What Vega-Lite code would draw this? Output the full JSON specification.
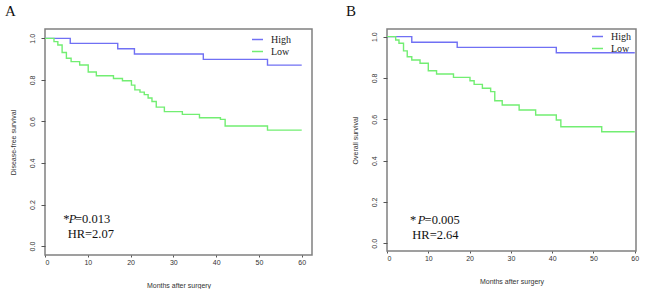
{
  "$schema": "https://vega.github.io/schema/vega-lite/v6.json",
  "padding": {"left": 4, "top": 3, "right": 0, "bottom": 0},
  "background": "white",
  "config": {
    "view": {"stroke": "#808080", "strokeWidth": 1.5},
    "concat": {"spacing": 32},
    "axis": {
      "grid": false, "domain": false, "ticks": true, "tickColor": "#555555", "tickWidth": 1,
      "labelFont": "Liberation Sans", "labelFontSize": 7, "labelColor": "#333333",
      "titleFont": "Liberation Sans", "titleFontSize": 7, "titleFontWeight": "normal", "titleColor": "#333333"
    },
    "axisX": {"tickSize": 2, "labelPadding": 1, "titlePadding": 16, "values": [0, 10, 20, 30, 40, 50, 60]},
    "axisY": {"tickSize": 4, "labelPadding": 6, "labelAngle": -90, "labelAlign": "center", "labelBaseline": "bottom", "titlePadding": 12, "minExtent": 17, "maxExtent": 17, "values": [0, 0.2, 0.4, 0.6, 0.8, 1.0], "format": ".1f"},
    "legend": {
      "labelFont": "Liberation Serif", "labelFontSize": 10, "labelColor": "#222222",
      "symbolType": "stroke", "symbolSize": 121, "symbolStrokeWidth": 1.5, "labelOffset": 7, "rowPadding": -1, "title": null
    },
    "title": {"font": "Liberation Serif", "fontSize": 15, "fontWeight": "normal", "color": "#111111", "anchor": "start", "frame": "bounds", "offset": 10}
  },
  "datasets": {
    "dfs": [
      {"group": "High", "t": 0, "s": 1.0},
      {"group": "High", "t": 5.9, "s": 0.976},
      {"group": "High", "t": 17.0, "s": 0.95},
      {"group": "High", "t": 20.9, "s": 0.925},
      {"group": "High", "t": 37.0, "s": 0.899},
      {"group": "High", "t": 52.0, "s": 0.871},
      {"group": "High", "t": 60.0, "s": 0.871},
      {"group": "Low", "t": 0, "s": 1.0},
      {"group": "Low", "t": 2.1, "s": 0.984},
      {"group": "Low", "t": 3.0, "s": 0.968},
      {"group": "Low", "t": 4.0, "s": 0.932},
      {"group": "Low", "t": 5.0, "s": 0.904},
      {"group": "Low", "t": 6.1, "s": 0.888},
      {"group": "Low", "t": 8.1, "s": 0.872},
      {"group": "Low", "t": 10.1, "s": 0.838},
      {"group": "Low", "t": 12.0, "s": 0.82},
      {"group": "Low", "t": 16.0, "s": 0.807},
      {"group": "Low", "t": 18.1, "s": 0.796},
      {"group": "Low", "t": 20.2, "s": 0.775},
      {"group": "Low", "t": 21.0, "s": 0.752},
      {"group": "Low", "t": 22.2, "s": 0.741},
      {"group": "Low", "t": 23.2, "s": 0.729},
      {"group": "Low", "t": 24.1, "s": 0.713},
      {"group": "Low", "t": 25.0, "s": 0.696},
      {"group": "Low", "t": 26.0, "s": 0.669},
      {"group": "Low", "t": 27.9, "s": 0.647},
      {"group": "Low", "t": 32.1, "s": 0.634},
      {"group": "Low", "t": 36.1, "s": 0.618},
      {"group": "Low", "t": 41.0, "s": 0.61},
      {"group": "Low", "t": 42.1, "s": 0.578},
      {"group": "Low", "t": 52.0, "s": 0.558},
      {"group": "Low", "t": 60.0, "s": 0.558}
    ],
    "os": [
      {"group": "High", "t": 0, "s": 1.0},
      {"group": "High", "t": 6.0, "s": 0.973},
      {"group": "High", "t": 17.0, "s": 0.948},
      {"group": "High", "t": 41.0, "s": 0.922},
      {"group": "High", "t": 60.0, "s": 0.922},
      {"group": "Low", "t": 0, "s": 1.0},
      {"group": "Low", "t": 2.1, "s": 0.984},
      {"group": "Low", "t": 2.9, "s": 0.968},
      {"group": "Low", "t": 4.0, "s": 0.931},
      {"group": "Low", "t": 4.9, "s": 0.903},
      {"group": "Low", "t": 6.0, "s": 0.887},
      {"group": "Low", "t": 8.0, "s": 0.871},
      {"group": "Low", "t": 10.0, "s": 0.835},
      {"group": "Low", "t": 12.0, "s": 0.819},
      {"group": "Low", "t": 16.1, "s": 0.803},
      {"group": "Low", "t": 20.1, "s": 0.787},
      {"group": "Low", "t": 21.1, "s": 0.769},
      {"group": "Low", "t": 23.1, "s": 0.75},
      {"group": "Low", "t": 25.1, "s": 0.734},
      {"group": "Low", "t": 26.1, "s": 0.69},
      {"group": "Low", "t": 27.9, "s": 0.669},
      {"group": "Low", "t": 32.0, "s": 0.645},
      {"group": "Low", "t": 36.0, "s": 0.621},
      {"group": "Low", "t": 41.0, "s": 0.597},
      {"group": "Low", "t": 42.1, "s": 0.564},
      {"group": "Low", "t": 52.0, "s": 0.54},
      {"group": "Low", "t": 60.0, "s": 0.54}
    ],
    "notesA": [
      {"x": 4.28, "y": 0.112, "label": "*"},
      {"x": 7.0, "y": 0.112, "label": "=0.013"},
      {"x": 5.3, "y": 0.039, "label": "HR=2.07"}
    ],
    "italA": [
      {"x": 5.55, "y": 0.112, "label": "P"}
    ],
    "notesB": [
      {"x": 5.57, "y": 0.094, "label": "*"},
      {"x": 9.1, "y": 0.094, "label": "=0.005"},
      {"x": 6.13, "y": 0.02, "label": "HR=2.64"}
    ],
    "italB": [
      {"x": 7.45, "y": 0.094, "label": "P"}
    ]
  },
  "hconcat": [
    {
      "width": 267,
      "height": 226,
      "title": {"text": "A", "dx": -4},
      "layer": [
        {
          "data": {"name": "dfs"},
          "mark": {"type": "line", "interpolate": "step-after", "strokeWidth": 1.4},
          "encoding": {
            "x": {"field": "t", "type": "quantitative", "scale": {"domain": [0, 62.4], "nice": false, "zero": false}, "axis": {"title": "Months after surgery"}},
            "y": {"field": "s", "type": "quantitative", "scale": {"domain": [-0.043, 1.045], "nice": false, "zero": false}, "axis": {"title": "Disease-free survival"}},
            "color": {"field": "group", "type": "nominal", "scale": {"domain": ["High", "Low"], "range": ["#7070f4", "#72ee72"]}, "legend": {"orient": "none", "legendX": 206, "legendY": 4}}
          }
        },
        {
          "data": {"name": "notesA"},
          "mark": {"type": "text", "align": "left", "baseline": "alphabetic", "font": "Liberation Serif", "fontSize": 12.5, "color": "#111111"},
          "encoding": {
            "x": {"field": "x", "type": "quantitative"},
            "y": {"field": "y", "type": "quantitative"},
            "text": {"field": "label"}
          }
        },
        {
          "data": {"name": "italA"},
          "mark": {"type": "text", "align": "left", "baseline": "alphabetic", "font": "Liberation Serif", "fontStyle": "italic", "fontSize": 12.5, "color": "#111111"},
          "encoding": {
            "x": {"field": "x", "type": "quantitative"},
            "y": {"field": "y", "type": "quantitative"},
            "text": {"field": "label"}
          }
        }
      ]
    },
    {
      "width": 249,
      "height": 222,
      "title": {"text": "B", "dx": -5},
      "layer": [
        {
          "data": {"name": "os"},
          "mark": {"type": "line", "interpolate": "step-after", "strokeWidth": 1.4},
          "encoding": {
            "x": {"field": "t", "type": "quantitative", "scale": {"domain": [0, 60.3], "nice": false, "zero": false}, "axis": {"title": "Months after surgery"}},
            "y": {"field": "s", "type": "quantitative", "scale": {"domain": [-0.037, 1.037], "nice": false, "zero": false}, "axis": {"title": "Overall survival"}},
            "color": {"field": "group", "type": "nominal", "scale": {"domain": ["High", "Low"], "range": ["#7070f4", "#72ee72"]}, "legend": {"orient": "none", "legendX": 204, "legendY": 1}}
          }
        },
        {
          "data": {"name": "notesB"},
          "mark": {"type": "text", "align": "left", "baseline": "alphabetic", "font": "Liberation Serif", "fontSize": 12.5, "color": "#111111"},
          "encoding": {
            "x": {"field": "x", "type": "quantitative"},
            "y": {"field": "y", "type": "quantitative"},
            "text": {"field": "label"}
          }
        },
        {
          "data": {"name": "italB"},
          "mark": {"type": "text", "align": "left", "baseline": "alphabetic", "font": "Liberation Serif", "fontStyle": "italic", "fontSize": 12.5, "color": "#111111"},
          "encoding": {
            "x": {"field": "x", "type": "quantitative"},
            "y": {"field": "y", "type": "quantitative"},
            "text": {"field": "label"}
          }
        }
      ]
    }
  ],
  "resolve": {
    "scale": {"x": "independent", "y": "independent", "color": "independent"},
    "legend": {"color": "independent"}
  }
}
